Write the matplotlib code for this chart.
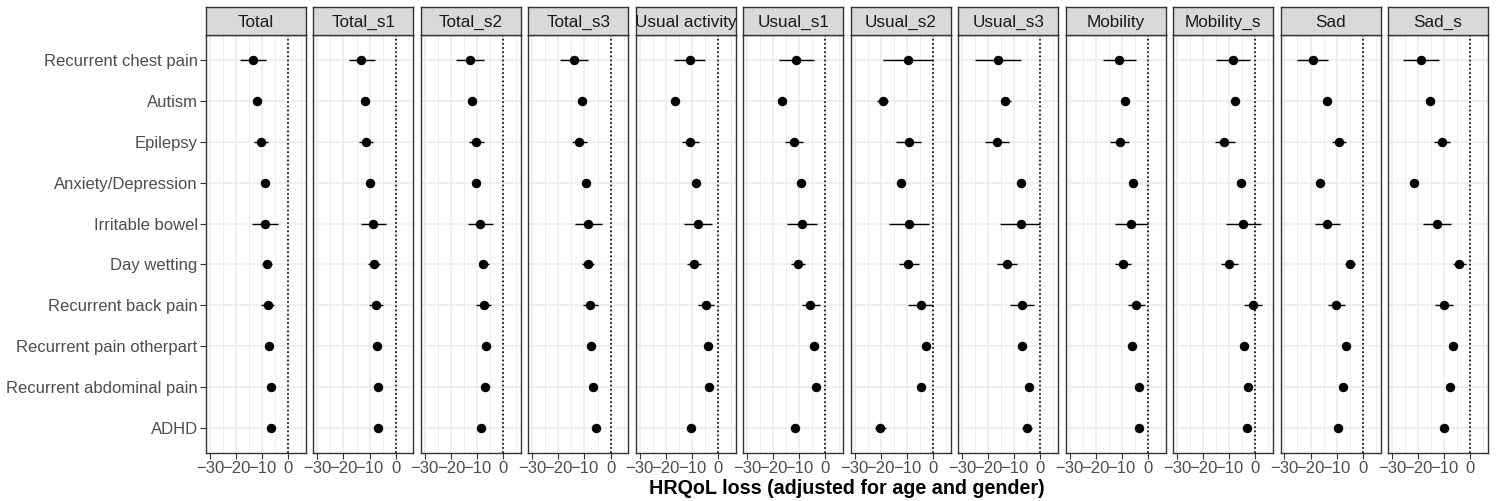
import numpy as np
import matplotlib
matplotlib.use('Agg')
import matplotlib.pyplot as plt

plt.rcParams['font.family'] = ['Liberation Sans', 'DejaVu Sans']

# conditions, top to bottom
conditions = ['Recurrent chest pain', 'Autism', 'Epilepsy', 'Anxiety/Depression',
              'Irritable bowel', 'Day wetting', 'Recurrent back pain',
              'Recurrent pain otherpart', 'Recurrent abdominal pain', 'ADHD']

facets = ['Total', 'Total_s1', 'Total_s2', 'Total_s3', 'Usual activity', 'Usual_s1',
          'Usual_s2', 'Usual_s3', 'Mobility', 'Mobility_s', 'Sad', 'Sad_s']

# estimate, lower CI, upper CI per facet (same order as conditions)
total_est = [-13.6, -12.1, -10.5, -8.8, -8.8, -8.2, -7.9, -7.2, -6.7, -6.7]
total_lo = [-18.5, -13.0, -13.0, -9.6, -13.7, -10.0, -10.6, -8.0, -7.5, -7.6]
total_hi = [-8.6, -11.2, -7.8, -8.0, -4.1, -6.2, -5.4, -6.4, -5.9, -5.8]

total_s1_est = [-13.1, -11.8, -11.2, -9.9, -8.6, -8.3, -7.7, -7.1, -6.7, -6.8]
total_s1_lo = [-17.9, -12.7, -14.0, -10.7, -13.3, -10.5, -10.3, -7.9, -7.5, -7.7]
total_s1_hi = [-7.9, -10.9, -8.6, -9.1, -3.8, -6.0, -5.0, -6.3, -5.9, -5.9]

total_s2_est = [-12.7, -12.1, -10.3, -10.4, -8.7, -7.6, -7.3, -6.5, -6.8, -8.6]
total_s2_lo = [-18.1, -13.0, -13.0, -11.2, -13.6, -9.4, -10.3, -7.3, -7.6, -9.5]
total_s2_hi = [-7.3, -11.2, -7.4, -9.6, -4.0, -5.5, -4.6, -5.7, -6.0, -7.7]

total_s3_est = [-14.0, -11.0, -12.2, -9.6, -8.5, -8.8, -7.9, -7.6, -6.8, -5.6]
total_s3_lo = [-19.2, -12.0, -14.7, -10.4, -13.6, -11.0, -10.5, -8.4, -7.6, -6.5]
total_s3_hi = [-8.7, -10.0, -9.2, -8.8, -3.3, -6.3, -5.0, -6.8, -6.0, -4.7]

usual_est = [-10.9, -16.3, -10.6, -8.6, -7.7, -9.1, -4.7, -4.0, -3.3, -10.3]
usual_lo = [-16.8, -17.2, -13.7, -9.5, -13.1, -11.7, -7.8, -4.9, -4.2, -11.2]
usual_hi = [-4.9, -15.4, -7.4, -7.7, -2.4, -6.5, -1.5, -3.1, -2.4, -9.4]

usual_s1_est = [-11.3, -16.8, -12.2, -9.2, -9.0, -10.5, -5.8, -4.4, -3.7, -11.8]
usual_s1_lo = [-17.9, -18.1, -15.5, -10.1, -14.7, -13.3, -9.1, -5.3, -4.6, -12.8]
usual_s1_hi = [-4.4, -15.5, -8.5, -8.3, -3.1, -7.7, -2.2, -3.5, -2.8, -10.8]

usual_s2_est = [-9.4, -19.3, -9.3, -12.4, -9.1, -9.4, -4.6, -2.8, -4.6, -20.1]
usual_s2_lo = [-19.0, -21.4, -14.0, -13.3, -16.9, -13.0, -9.4, -4.1, -6.0, -22.2]
usual_s2_hi = [0.0, -17.2, -4.5, -11.5, -1.7, -5.5, 0.1, -1.5, -3.2, -18.0]

usual_s3_est = [-16.3, -13.5, -16.5, -7.4, -7.6, -12.7, -7.1, -7.1, -4.4, -5.1]
usual_s3_lo = [-24.9, -15.0, -21.2, -8.3, -15.3, -16.5, -11.7, -8.5, -5.3, -6.9]
usual_s3_hi = [-7.3, -11.2, -11.9, -6.5, 0.0, -8.8, -2.6, -5.5, -3.5, -3.3]

mobility_est = [-10.9, -8.7, -10.8, -5.6, -6.5, -9.6, -4.4, -6.2, -3.3, -3.2]
mobility_lo = [-17.3, -10.2, -14.6, -6.5, -12.7, -12.7, -7.7, -7.1, -4.2, -4.6]
mobility_hi = [-4.4, -7.2, -7.1, -4.7, 0.1, -6.5, -0.9, -5.3, -2.4, -1.8]

mobility_s_est = [-8.6, -7.7, -11.8, -5.4, -4.9, -10.1, -1.0, -4.5, -2.9, -3.1]
mobility_s_lo = [-15.1, -9.0, -15.5, -6.3, -11.4, -13.3, -4.4, -5.8, -3.8, -4.4]
mobility_s_hi = [-1.9, -6.4, -7.8, -4.5, 2.2, -6.8, 2.4, -3.2, -2.0, -1.8]

sad_est = [-19.1, -13.8, -9.1, -16.5, -13.6, -4.9, -10.1, -6.3, -7.4, -9.4]
sad_lo = [-25.0, -14.7, -11.8, -17.4, -18.2, -6.9, -13.3, -7.2, -8.3, -10.3]
sad_hi = [-13.3, -12.9, -6.4, -15.6, -8.6, -2.8, -6.7, -5.4, -6.5, -8.5]

sad_s_est = [-18.8, -15.3, -10.8, -21.5, -12.9, -4.1, -10.1, -6.5, -7.8, -9.9]
sad_s_lo = [-25.6, -16.6, -14.0, -22.4, -18.2, -6.7, -13.5, -7.4, -8.7, -10.8]
sad_s_hi = [-11.8, -14.0, -7.6, -20.6, -7.4, -1.5, -6.5, -5.6, -6.9, -9.0]

panels = [
    (total_est, total_lo, total_hi),
    (total_s1_est, total_s1_lo, total_s1_hi),
    (total_s2_est, total_s2_lo, total_s2_hi),
    (total_s3_est, total_s3_lo, total_s3_hi),
    (usual_est, usual_lo, usual_hi),
    (usual_s1_est, usual_s1_lo, usual_s1_hi),
    (usual_s2_est, usual_s2_lo, usual_s2_hi),
    (usual_s3_est, usual_s3_lo, usual_s3_hi),
    (mobility_est, mobility_lo, mobility_hi),
    (mobility_s_est, mobility_s_lo, mobility_s_hi),
    (sad_est, sad_lo, sad_hi),
    (sad_s_est, sad_s_lo, sad_s_hi),
]

W, H = 1496, 501
fig = plt.figure(figsize=(W / 100, H / 100), dpi=100)

border = '#333333'
grid_col = '#EBEBEB'
text_col = '#4D4D4D'

left0, pw, gap = 206, 100, 7.45
top_px, strip_h, bot_px = 35, 28, 453
y = np.arange(len(conditions))

for i, (name, (est, lo, hi)) in enumerate(zip(facets, panels)):
    x0 = left0 + i * (pw + gap)
    ax = fig.add_axes([x0 / W, 1 - bot_px / H, pw / W, (bot_px - top_px) / H])
    ax.set_xlim(-31.5, 6.8)
    ax.set_ylim(len(conditions) - 0.4, -0.6)
    ax.set_xticks([-30, -20, -10, 0])
    ax.set_xticks([-25, -15, -5, 5], minor=True)
    ax.set_xticklabels(['\u221230', '\u221220', '\u221210', '0'])
    ax.set_yticks(y)
    ax.grid(True, which='major', color=grid_col, lw=1.1)
    ax.grid(True, which='minor', axis='x', color=grid_col, lw=0.6)
    ax.set_axisbelow(True)
    ax.axvline(0, color='black', ls=(0, (1.0, 1.5)), lw=1.2, zorder=2)
    ax.hlines(y, lo, hi, color='black', lw=1.0, zorder=3)
    ax.plot(est, y, 'o', color='black', ms=5.8, zorder=4)
    for s in ax.spines.values():
        s.set_color(border)
        s.set_linewidth(1.0)
    ax.tick_params(axis='x', which='major', length=4, color=border, labelsize=12,
                   labelcolor=text_col, pad=1.5)
    ax.tick_params(axis='x', which='minor', length=0)
    if i == 0:
        ax.set_yticklabels(conditions)
        ax.tick_params(axis='y', length=4, color=border, labelsize=12,
                       labelcolor=text_col, pad=2)
    else:
        ax.tick_params(axis='y', length=0, labelleft=False)

    # facet strip
    sx = fig.add_axes([x0 / W, 1 - top_px / H, pw / W, strip_h / H])
    sx.set_facecolor('#D9D9D9')
    sx.set_xticks([])
    sx.set_yticks([])
    for s in sx.spines.values():
        s.set_color(border)
        s.set_linewidth(1.0)
    sx.text(0.5, 0.45, name, ha='center', va='center', fontsize=12.3,
            color='#1A1A1A', transform=sx.transAxes)

x_mid = (left0 + (left0 + 11 * (pw + gap) + pw)) / 2
fig.text(x_mid / W, 1 - 489 / H, 'HRQoL loss (adjusted for age and gender)',
         ha='center', va='center', fontsize=14.2, fontweight='bold', color='black')

fig.savefig('out.png', dpi=100)
